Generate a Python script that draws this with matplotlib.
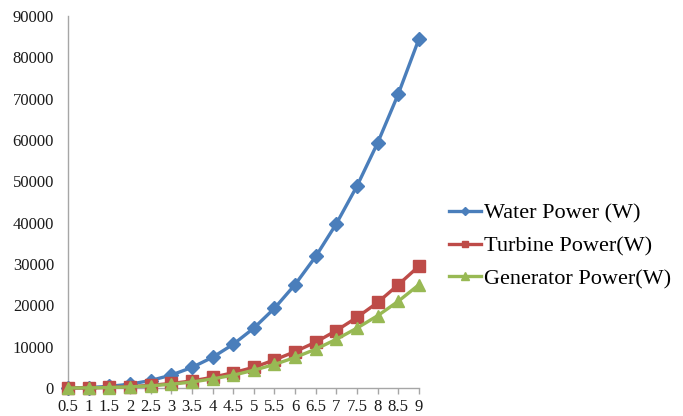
import matplotlib
matplotlib.use("Agg")
import matplotlib.pyplot as plt

plt.rcParams['font.family'] = ['Liberation Serif', 'DejaVu Serif']

# flow speed categories
speed = [0.5, 1, 1.5, 2, 2.5, 3, 3.5, 4, 4.5, 5, 5.5, 6, 6.5, 7, 7.5, 8, 8.5, 9]
speed_labels = ['0.5', '1', '1.5', '2', '2.5', '3', '3.5', '4', '4.5', '5',
                '5.5', '6', '6.5', '7', '7.5', '8', '8.5', '9']

# values
water_power = [15, 116, 390, 930, 1810, 3130, 4970, 7420, 10560, 14490,
               19290, 25040, 31840, 39770, 48900, 59340, 71170, 84490]
turbine_power = [5, 40, 140, 330, 640, 1100, 1700, 2600, 3700, 5000,
                 6800, 8800, 11100, 13900, 17100, 20700, 25000, 29500]
generator_power = [4, 35, 115, 270, 530, 900, 1450, 2200, 3100, 4300,
                   5700, 7400, 9400, 11800, 14500, 17500, 21000, 25000]

blue = '#4A7EBB'
red = '#BE4B48'
green = '#98B954'
axis_grey = '#A6A6A6'

fig = plt.figure(figsize=(6.83, 4.16), dpi=100)
ax = fig.add_axes([68 / 683, 1 - 388 / 416, (419 - 68) / 683, (388 - 16) / 416])

ax.plot(speed, water_power, color=blue, lw=2.4, marker='D', ms=7.5,
        clip_on=False, zorder=3, label='Water Power (W)')
ax.plot(speed, turbine_power, color=red, lw=2.4, marker='s', ms=8,
        clip_on=False, zorder=4, label='Turbine Power(W)')
ax.plot(speed, generator_power, color=green, lw=2.4, marker='^', ms=9,
        clip_on=False, zorder=5, label='Generator Power(W)')

ax.set_xlim(0.5, 9)
ax.set_ylim(0, 90000)
ax.set_xticks(speed)
ax.set_xticklabels(speed_labels)
ax.set_yticks(range(0, 90001, 10000))

for side in ['top', 'right']:
    ax.spines[side].set_visible(False)
for side in ['left', 'bottom']:
    ax.spines[side].set_color(axis_grey)
    ax.spines[side].set_linewidth(1.0)

ax.tick_params(axis='both', colors=axis_grey, labelcolor='#1a1a1a',
               labelsize=12, length=4, width=1)
ax.tick_params(axis='x', pad=4)
ax.tick_params(axis='y', length=0, pad=10)

fig.legend(loc='center left', bbox_to_anchor=(440 / 683, 1 - 246 / 416),
           frameon=False, fontsize=16, handlelength=1.45, markerscale=0.6,
           labelspacing=0.55, handletextpad=0.15, borderaxespad=0)

fig.savefig('out.png', dpi=100)
